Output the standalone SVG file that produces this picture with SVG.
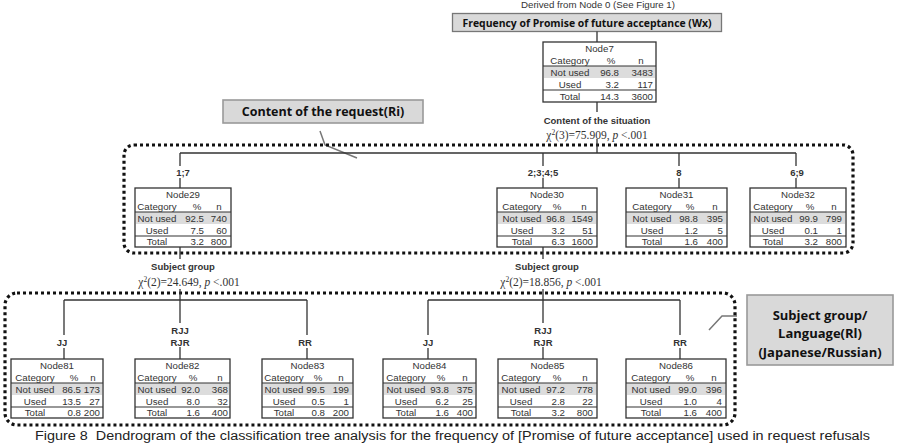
<svg xmlns="http://www.w3.org/2000/svg" width="903" height="444" viewBox="0 0 903 444">
<style>
.bg{fill:#fff}
.box{fill:#fff;stroke:#333;stroke-width:1.3}
.gray{fill:#dcdcdc}
.rl{stroke:#333;stroke-width:1.1}
.t{font-family:"Liberation Sans",Arial,sans-serif;font-size:9.7px;fill:#333}
.c{text-anchor:middle}
.r{text-anchor:end}
.lab{font-family:"Liberation Sans",Arial,sans-serif;font-size:9.5px;font-weight:bold;fill:#333;text-anchor:middle}
.chi{font-family:"Liberation Serif","Times New Roman",serif;font-size:11.5px;fill:#333;text-anchor:middle}
.ln{stroke:#333;stroke-width:1.3;fill:none}
.dot{fill:none;stroke:#111;stroke-width:3.2;stroke-dasharray:3 3}
.call{fill:#d9d9d9;stroke:#999;stroke-width:1.6}
.ct{font-family:"Open Sans","Liberation Sans",sans-serif;font-weight:bold;fill:#111;text-anchor:middle}
.lead{stroke:#777;stroke-width:1.5;fill:none}
</style>
<rect class="bg" x="0" y="0" width="903" height="444"/>

<text class="t c" x="598" y="8" font-size="9px" fill="#444">Derived from Node 0 (See Figure 1)</text>

<g id="title">
<rect x="452.5" y="13.5" width="269" height="18" fill="#d9d9d9" stroke="#777" stroke-width="1.3"/>
<text class="ct" x="587" y="26.5" font-size="10.5px" textLength="249" lengthAdjust="spacingAndGlyphs">Frequency of Promise of future acceptance (Wx)</text>
</g>

<g id="callout-ri">
<rect class="call" x="223" y="100" width="200" height="23"/>
<text class="ct" x="323" y="116" font-size="12.5px">Content of the request(Ri)</text>
<polyline class="lead" points="320,131 325,145 357,158"/>
</g>

<g id="callout-rl">
<rect class="call" x="747" y="295" width="146" height="70"/>
<text class="ct" x="820" y="320" font-size="13px">Subject group/</text>
<text class="ct" x="820" y="338" font-size="13px">Language(Rl)</text>
<text class="ct" x="820" y="357" font-size="13px">(Japanese/Russian)</text>
<polyline class="lead" points="709,330 722,316 737,316"/>
</g>

<g id="frames">
<rect class="dot" x="124" y="145" width="729" height="108" rx="10"/>
<rect class="dot" x="5" y="293" width="730" height="132" rx="12"/>
</g>

<g id="connectors">
<path class="ln" d="M597,31.5V42 M597,102V112 M597,139V153 M180,153H796
M180,153V166 M180,178V188 M543,153V166 M543,178V188 M679,153V166 M679,178V188 M796,153V166 M796,178V188
M180,247V259 M180,289V300 M64,300H307 M64,300V335 M64,348V359 M180,300V323 M180,347V359 M307,300V335 M307,348V359
M543,247V259 M543,289V300 M428,300H680 M428,300V335 M428,348V359 M543,300V323 M543,347V359 M680,300V335 M680,348V359"/>
<text class="lab" x="597" y="123.5">Content of the situation</text>
<text class="chi" x="597" y="139">χ<tspan dy="-4.5" font-size="7.5px">2</tspan><tspan dy="4.5">(3)=75.909, </tspan><tspan font-style="italic">p</tspan> &lt;.001</text>
<text class="lab" x="183" y="175.5">1;7</text>
<text class="lab" x="543" y="175.5">2;3;4;5</text>
<text class="lab" x="679" y="175.5">8</text>
<text class="lab" x="797" y="175.5">6;9</text>
<text class="lab" x="183" y="269.5">Subject group</text>
<text class="chi" x="189" y="286">χ<tspan dy="-4.5" font-size="7.5px">2</tspan><tspan dy="4.5">(2)=24.649, </tspan><tspan font-style="italic">p</tspan> &lt;.001</text>
<text class="lab" x="547" y="269.5">Subject group</text>
<text class="chi" x="551" y="286">χ<tspan dy="-4.5" font-size="7.5px">2</tspan><tspan dy="4.5">(2)=18.856, </tspan><tspan font-style="italic">p</tspan> &lt;.001</text>
<text class="lab" x="62" y="345.5">JJ</text>
<text class="lab" x="180" y="333.5">RJJ</text>
<text class="lab" x="180" y="345.5">RJR</text>
<text class="lab" x="305" y="345.5">RR</text>
<text class="lab" x="428" y="345.5">JJ</text>
<text class="lab" x="543" y="333.5">RJJ</text>
<text class="lab" x="543" y="345.5">RJR</text>
<text class="lab" x="680" y="345.5">RR</text>
</g>

<g id="node7">
<rect class="box" x="543" y="42" width="113" height="60"/>
<rect class="gray" x="544" y="66" width="111" height="12"/>
<path class="rl" d="M543,66H656 M543,90H656"/>
<text class="t c" x="599.5" y="51.5">Node7</text>
<text class="t c" x="570" y="63.5">Category</text><text class="t c" x="611" y="63.5">%</text><text class="t c" x="641" y="63.5">n</text>
<text class="t c" x="570" y="75.5">Not used</text><text class="t r" x="619" y="75.5">96.8</text><text class="t r" x="653" y="75.5">3483</text>
<text class="t c" x="570" y="87.5">Used</text><text class="t r" x="619" y="87.5">3.2</text><text class="t r" x="653" y="87.5">117</text>
<text class="t c" x="570" y="99.5">Total</text><text class="t r" x="619" y="99.5">14.3</text><text class="t r" x="653" y="99.5">3600</text>
</g>

<g id="node29">
<rect class="box" x="135" y="188" width="96" height="59"/>
<rect class="gray" x="136" y="212" width="94" height="12"/>
<path class="rl" d="M135,212H231 M135,236H231"/>
<text class="t c" x="183" y="197.5">Node29</text>
<text class="t c" x="157" y="209.5">Category</text><text class="t c" x="197" y="209.5">%</text><text class="t c" x="219" y="209.5">n</text>
<text class="t c" x="157" y="221.5">Not used</text><text class="t r" x="204" y="221.5">92.5</text><text class="t r" x="227" y="221.5">740</text>
<text class="t c" x="157" y="233.5">Used</text><text class="t r" x="204" y="233.5">7.5</text><text class="t r" x="227" y="233.5">60</text>
<text class="t c" x="157" y="245">Total</text><text class="t r" x="204" y="245">3.2</text><text class="t r" x="227" y="245">800</text>
</g>

<g id="node30">
<rect class="box" x="497" y="188" width="100" height="59"/>
<rect class="gray" x="498" y="212" width="98" height="12"/>
<path class="rl" d="M497,212H597 M497,236H597"/>
<text class="t c" x="547" y="197.5">Node30</text>
<text class="t c" x="522" y="209.5">Category</text><text class="t c" x="557" y="209.5">%</text><text class="t c" x="584" y="209.5">n</text>
<text class="t c" x="522" y="221.5">Not used</text><text class="t r" x="565" y="221.5">96.8</text><text class="t r" x="593" y="221.5">1549</text>
<text class="t c" x="522" y="233.5">Used</text><text class="t r" x="565" y="233.5">3.2</text><text class="t r" x="593" y="233.5">51</text>
<text class="t c" x="522" y="245">Total</text><text class="t r" x="565" y="245">6.3</text><text class="t r" x="593" y="245">1600</text>
</g>

<g id="node31">
<rect class="box" x="626" y="188" width="101" height="59"/>
<rect class="gray" x="627" y="212" width="99" height="12"/>
<path class="rl" d="M626,212H727 M626,236H727"/>
<text class="t c" x="676.5" y="197.5">Node31</text>
<text class="t c" x="652" y="209.5">Category</text><text class="t c" x="690" y="209.5">%</text><text class="t c" x="715" y="209.5">n</text>
<text class="t c" x="652" y="221.5">Not used</text><text class="t r" x="698" y="221.5">98.8</text><text class="t r" x="723" y="221.5">395</text>
<text class="t c" x="652" y="233.5">Used</text><text class="t r" x="698" y="233.5">1.2</text><text class="t r" x="723" y="233.5">5</text>
<text class="t c" x="652" y="245">Total</text><text class="t r" x="698" y="245">1.6</text><text class="t r" x="723" y="245">400</text>
</g>

<g id="node32">
<rect class="box" x="750" y="188" width="96" height="59"/>
<rect class="gray" x="751" y="212" width="94" height="12"/>
<path class="rl" d="M750,212H846 M750,236H846"/>
<text class="t c" x="798" y="197.5">Node32</text>
<text class="t c" x="773" y="209.5">Category</text><text class="t c" x="810" y="209.5">%</text><text class="t c" x="834" y="209.5">n</text>
<text class="t c" x="773" y="221.5">Not used</text><text class="t r" x="818" y="221.5">99.9</text><text class="t r" x="842" y="221.5">799</text>
<text class="t c" x="773" y="233.5">Used</text><text class="t r" x="818" y="233.5">0.1</text><text class="t r" x="842" y="233.5">1</text>
<text class="t c" x="773" y="245">Total</text><text class="t r" x="818" y="245">3.2</text><text class="t r" x="842" y="245">800</text>
</g>

<g id="node81">
<rect class="box" x="11" y="359" width="92" height="59"/>
<rect class="gray" x="12" y="383" width="90" height="12"/>
<path class="rl" d="M11,383H103 M11,407H103"/>
<text class="t c" x="57" y="368.5">Node81</text>
<text class="t c" x="35" y="380.5">Category</text><text class="t c" x="74" y="380.5">%</text><text class="t c" x="93" y="380.5">n</text>
<text class="t c" x="35" y="392.5">Not used</text><text class="t r" x="81" y="392.5">86.5</text><text class="t r" x="100" y="392.5">173</text>
<text class="t c" x="35" y="404.5">Used</text><text class="t r" x="81" y="404.5">13.5</text><text class="t r" x="100" y="404.5">27</text>
<text class="t c" x="35" y="416">Total</text><text class="t r" x="81" y="416">0.8</text><text class="t r" x="100" y="416">200</text>
</g>

<g id="node82">
<rect class="box" x="135" y="359" width="95" height="59"/>
<rect class="gray" x="136" y="383" width="93" height="12"/>
<path class="rl" d="M135,383H230 M135,407H230"/>
<text class="t c" x="182.5" y="368.5">Node82</text>
<text class="t c" x="157" y="380.5">Category</text><text class="t c" x="193" y="380.5">%</text><text class="t c" x="220" y="380.5">n</text>
<text class="t c" x="157" y="392.5">Not used</text><text class="t r" x="200" y="392.5">92.0</text><text class="t r" x="228" y="392.5">368</text>
<text class="t c" x="157" y="404.5">Used</text><text class="t r" x="200" y="404.5">8.0</text><text class="t r" x="228" y="404.5">32</text>
<text class="t c" x="157" y="416">Total</text><text class="t r" x="200" y="416">1.6</text><text class="t r" x="228" y="416">400</text>
</g>

<g id="node83">
<rect class="box" x="262" y="359" width="91" height="59"/>
<rect class="gray" x="263" y="383" width="89" height="12"/>
<path class="rl" d="M262,383H353 M262,407H353"/>
<text class="t c" x="307.5" y="368.5">Node83</text>
<text class="t c" x="284" y="380.5">Category</text><text class="t c" x="318" y="380.5">%</text><text class="t c" x="341" y="380.5">n</text>
<text class="t c" x="284" y="392.5">Not used</text><text class="t r" x="325" y="392.5">99.5</text><text class="t r" x="349" y="392.5">199</text>
<text class="t c" x="284" y="404.5">Used</text><text class="t r" x="325" y="404.5">0.5</text><text class="t r" x="349" y="404.5">1</text>
<text class="t c" x="284" y="416">Total</text><text class="t r" x="325" y="416">0.8</text><text class="t r" x="349" y="416">200</text>
</g>

<g id="node84">
<rect class="box" x="383" y="359" width="93" height="59"/>
<rect class="gray" x="384" y="383" width="91" height="12"/>
<path class="rl" d="M383,383H476 M383,407H476"/>
<text class="t c" x="429.5" y="368.5">Node84</text>
<text class="t c" x="406" y="380.5">Category</text><text class="t c" x="441" y="380.5">%</text><text class="t c" x="465" y="380.5">n</text>
<text class="t c" x="406" y="392.5">Not used</text><text class="t r" x="449" y="392.5">93.8</text><text class="t r" x="473" y="392.5">375</text>
<text class="t c" x="406" y="404.5">Used</text><text class="t r" x="449" y="404.5">6.2</text><text class="t r" x="473" y="404.5">25</text>
<text class="t c" x="406" y="416">Total</text><text class="t r" x="449" y="416">1.6</text><text class="t r" x="473" y="416">400</text>
</g>

<g id="node85">
<rect class="box" x="498" y="359" width="99" height="59"/>
<rect class="gray" x="499" y="383" width="97" height="12"/>
<path class="rl" d="M498,383H597 M498,407H597"/>
<text class="t c" x="547.5" y="368.5">Node85</text>
<text class="t c" x="521" y="380.5">Category</text><text class="t c" x="557" y="380.5">%</text><text class="t c" x="585" y="380.5">n</text>
<text class="t c" x="521" y="392.5">Not used</text><text class="t r" x="565" y="392.5">97.2</text><text class="t r" x="593" y="392.5">778</text>
<text class="t c" x="521" y="404.5">Used</text><text class="t r" x="565" y="404.5">2.8</text><text class="t r" x="593" y="404.5">22</text>
<text class="t c" x="521" y="416">Total</text><text class="t r" x="565" y="416">3.2</text><text class="t r" x="593" y="416">800</text>
</g>

<g id="node86">
<rect class="box" x="626" y="359" width="100" height="59"/>
<rect class="gray" x="627" y="383" width="98" height="12"/>
<path class="rl" d="M626,383H726 M626,407H726"/>
<text class="t c" x="676" y="368.5">Node86</text>
<text class="t c" x="651" y="380.5">Category</text><text class="t c" x="690" y="380.5">%</text><text class="t c" x="714" y="380.5">n</text>
<text class="t c" x="651" y="392.5">Not used</text><text class="t r" x="697" y="392.5">99.0</text><text class="t r" x="722" y="392.5">396</text>
<text class="t c" x="651" y="404.5">Used</text><text class="t r" x="697" y="404.5">1.0</text><text class="t r" x="722" y="404.5">4</text>
<text class="t c" x="651" y="416">Total</text><text class="t r" x="697" y="416">1.6</text><text class="t r" x="722" y="416">400</text>
</g>

<text x="35" y="440" font-family="'Liberation Sans',Arial,sans-serif" font-size="12.5px" fill="#222" textLength="835" lengthAdjust="spacingAndGlyphs">Figure 8&#160; Dendrogram of the classification tree analysis for the frequency of [Promise of future acceptance] used in request refusals</text>
</svg>
